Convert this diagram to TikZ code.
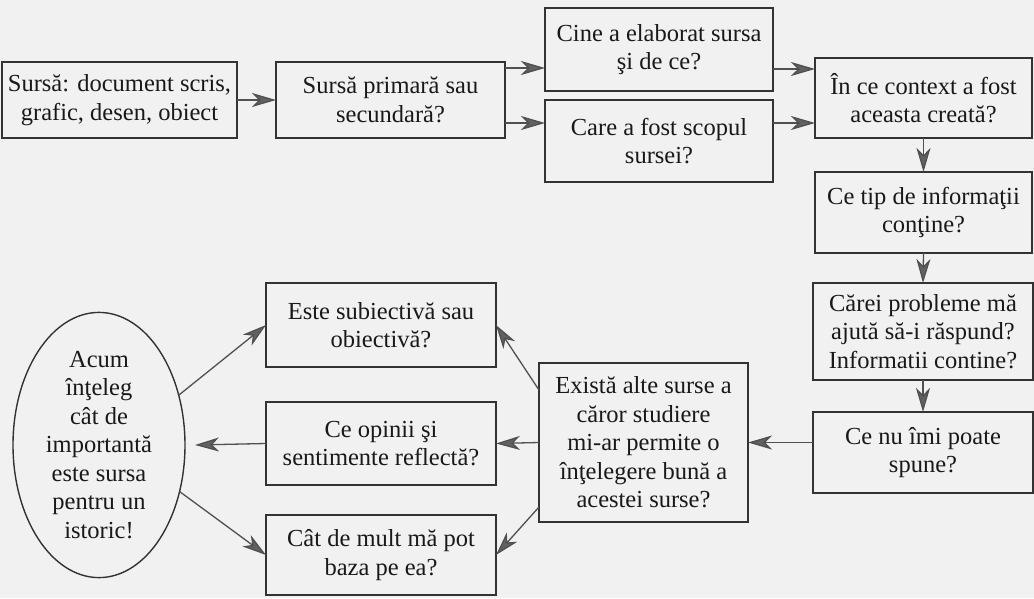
\documentclass[tikz,border=0pt]{standalone}
\usepackage{fontspec}
\setmainfont{Liberation Serif}
\usetikzlibrary{arrows.meta,shapes.geometric}
\definecolor{bgcol}{HTML}{F1F1F1}
\definecolor{linecol}{HTML}{333333}
\definecolor{arrcol}{HTML}{505050}
\tikzset{
  box/.style={draw=linecol,line width=1.4pt,align=center,inner sep=0pt,outer sep=0pt,
    font=\fontsize{24.5}{28.5}\selectfont,text=black!90},
  oval/.style={ellipse,draw=linecol,line width=1.4pt,align=center,inner sep=0pt,outer sep=0pt,
    font=\fontsize{24.5}{28.5}\selectfont,text=black!90},
  arr/.style={draw=arrcol,line width=1.3pt,-{Stealth[length=24pt,width=14pt,inset=7pt,fill=arrcol!90]}}
}
\begin{document}
\begin{tikzpicture}[x=1pt,y=-1pt]
\useasboundingbox (0,0) rectangle (1034,598);
\fill[bgcol] (0,0) rectangle (1034,598);

\node[box,minimum width=235pt,minimum height=76pt] (A) at (119.5,100) {Sursă: document scris,\\grafic, desen, obiect};
\node[box,minimum width=229pt,minimum height=76pt] (B) at (390.5,100) {Sursă primară sau\\secundară?};
\node[box,minimum width=228pt,minimum height=83pt] (C) at (659,49.5) {Cine a elaborat sursa\\şi de ce?};
\node[box,minimum width=228pt,minimum height=82pt] (D) at (659,141) {Care a fost scopul\\sursei?};
\node[box,minimum width=217pt,minimum height=80pt] (E) at (923.5,98) {În ce context a fost\\aceasta creată?};
\node[box,minimum width=217pt,minimum height=81pt] (F) at (923.5,212.5) {Ce tip de informaţii\\conţine?};
\node[box,minimum width=220pt,minimum height=97pt] (G) at (923,331.5) {Cărei probleme mă\\ajută să-i răspund?\\Informatii contine?};
\node[box,minimum width=220pt,minimum height=81pt] (H) at (923,452.5) {Ce nu îmi poate\\spune?};
\node[box,minimum width=209pt,minimum height=159pt] (I) at (643.5,442.5) {Există alte surse a\\căror studiere\\mi-ar permite o\\înţelegere bună a\\acestei surse?};
\node[box,minimum width=230pt,minimum height=84pt] (J) at (381,325) {Este subiectivă sau\\obiectivă?};
\node[box,minimum width=230pt,minimum height=83pt] (K) at (381,443.5) {Ce opinii şi\\sentimente reflectă?};
\node[box,minimum width=230pt,minimum height=80pt] (L) at (381,555) {Cât de mult mă pot\\baza pe ea?};
\node[oval,minimum width=172pt,minimum height=236pt] (M) at (99,445) {Acum\\înţeleg\\cât de\\importantă\\este sursa\\pentru un\\istoric!};

\draw[arr] (A.east) -- (B.west);
\draw[arr] ([yshift=32pt]B.east) -- ([yshift=-18.5pt]C.west);
\draw[arr] ([yshift=-23pt]B.east) -- ([yshift=18pt]D.west);
\draw[arr] ([yshift=-19.5pt]C.east) -- ([yshift=29pt]E.west);
\draw[arr] ([yshift=18pt]D.east) -- ([yshift=-25pt]E.west);
\draw[arr] (E.south) -- (F.north);
\draw[arr] (F.south) -- (G.north);
\draw[arr] (G.south) -- (H.north);
\draw[arr] (H.west |- I.east) -- (I.east);
\draw[arr] ([yshift=52.5pt]I.west) -- (J.east);
\draw[arr] (I.west) -- (K.east);
\draw[arr] ([yshift=-64.5pt]I.west) -- (L.east);
\draw[arr] (M.32) -- (J.west);
\draw[arr] (K.west) -- ([xshift=10pt]M.east);
\draw[arr] (M.-30) -- (L.west);
\end{tikzpicture}
\end{document}
